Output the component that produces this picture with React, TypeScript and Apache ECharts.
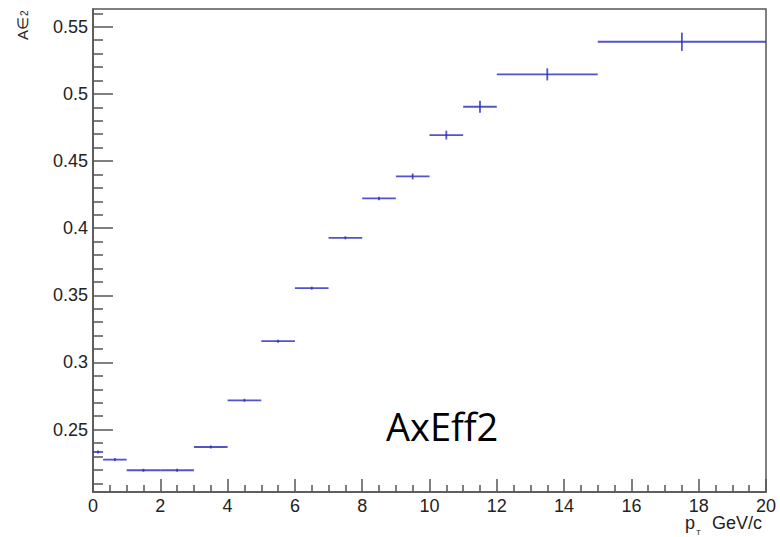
import React, { useEffect, useRef } from "react";
import * as echarts from "echarts";

const binLow = [0, 0.3, 1, 2, 3, 4, 5, 6, 7, 8, 9, 10, 11, 12, 15];
const binHigh = [0.3, 1, 2, 3, 4, 5, 6, 7, 8, 9, 10, 11, 12, 15, 20];
const effValues = [0.2333, 0.2276, 0.2197, 0.2197, 0.237, 0.2718, 0.3158, 0.3553, 0.3928, 0.4221, 0.4385, 0.4693, 0.4904, 0.5145, 0.5388];
const effErrors = [0.0006, 0.0007, 0.0005, 0.0005, 0.0006, 0.0006, 0.0006, 0.0007, 0.0008, 0.0013, 0.0022, 0.0033, 0.0045, 0.0045, 0.0068];

const yMajorTicks = [0.25, 0.3, 0.35, 0.4, 0.45, 0.5, 0.55];
const yMinorTicks = [
  0.21, 0.22, 0.23, 0.24, 0.26, 0.27, 0.28, 0.29, 0.31, 0.32, 0.33, 0.34,
  0.36, 0.37, 0.38, 0.39, 0.41, 0.42, 0.43, 0.44, 0.46, 0.47, 0.48, 0.49,
  0.51, 0.52, 0.53, 0.54, 0.56,
];

const Y_MIN = 0.2035;
const Y_MAX = 0.5632;
const LINE_COLOR = "rgba(45,45,190,0.82)";
const AXIS_COLOR = "#555";
const LABEL_FONT = "Liberation Sans";

export default function App() {
  const ref = useRef<HTMLDivElement>(null);
  useEffect(() => {
    if (!ref.current) return;
    const chart = echarts.init(ref.current, undefined, { renderer: "svg" });
    const data = binLow.map((lo, i) => [lo, binHigh[i], effValues[i], effErrors[i]]);
    chart.setOption({
      animation: false,
      backgroundColor: "#fff",
      grid: {
        left: 93,
        right: 14,
        top: 9,
        bottom: 45,
        show: true,
        borderColor: AXIS_COLOR,
        borderWidth: 1.5,
        backgroundColor: "transparent",
      },
      xAxis: {
        type: "value",
        min: 0,
        max: 20,
        interval: 2,
        axisLine: { show: true, lineStyle: { color: AXIS_COLOR, width: 1.5 } },
        axisTick: { show: true, inside: true, length: 13, lineStyle: { color: AXIS_COLOR, width: 1.5 } },
        minorTick: { show: true, splitNumber: 4, length: 7, lineStyle: { color: AXIS_COLOR, width: 1.5 } },
        splitLine: { show: false },
        axisLabel: { color: "#222", fontFamily: LABEL_FONT, fontSize: 18, lineHeight: 15, margin: 6 },
      },
      yAxis: [
        {
          type: "value",
          min: Y_MIN,
          max: Y_MAX,
          position: "left",
          axisLine: { show: true, lineStyle: { color: AXIS_COLOR, width: 1.5 } },
          axisTick: {
            show: true,
            inside: true,
            length: 20,
            customValues: yMajorTicks,
            lineStyle: { color: AXIS_COLOR, width: 1.5 },
          },
          splitLine: { show: false },
          axisLabel: {
            customValues: yMajorTicks,
            color: "#222",
            fontFamily: LABEL_FONT,
            fontSize: 18,
            margin: 5,
            formatter: (v: number) => String(Math.round(v * 100) / 100),
          },
        },
        {
          type: "value",
          min: Y_MIN,
          max: Y_MAX,
          position: "left",
          offset: 0,
          axisLine: { show: false },
          axisTick: {
            show: true,
            inside: true,
            length: 10,
            customValues: yMinorTicks,
            lineStyle: { color: AXIS_COLOR, width: 1.5 },
          },
          splitLine: { show: false },
          axisLabel: { show: false },
        },
      ],
      series: [
        {
          type: "custom",
          coordinateSystem: "cartesian2d",
          xAxisIndex: 0,
          yAxisIndex: 0,
          encode: { x: [0, 1], y: 2 },
          data,
          renderItem: (params: any, api: any) => {
            const lo = api.value(0);
            const hi = api.value(1);
            const v = api.value(2);
            const e = api.value(3);
            const c = (lo + hi) / 2;
            const p1 = api.coord([lo, v]);
            const p2 = api.coord([hi, v]);
            const top = api.coord([c, v + e]);
            const bot = api.coord([c, v - e]);
            const t = Math.min(top[1], p1[1] - 1.5);
            const b = Math.max(bot[1], p1[1] + 1.5);
            return {
              type: "group",
              children: [
                {
                  type: "line",
                  shape: { x1: p1[0], y1: p1[1], x2: p2[0], y2: p2[1] },
                  style: { stroke: LINE_COLOR, lineWidth: 1.8 },
                },
                {
                  type: "line",
                  shape: { x1: top[0], y1: t, x2: bot[0], y2: b },
                  style: { stroke: LINE_COLOR, lineWidth: 1.8 },
                },
              ],
            };
          },
        },
      ],
      graphic: [
        {
          type: "text",
          x: 386,
          y: 426,
          style: {
            text: "AxEff2",
            font: "38px 'Open Sans'",
            fill: "#000",
            align: "left",
            verticalAlign: "middle",
          },
        },
        {
          type: "text",
          x: 22,
          y: 40,
          rotation: Math.PI / 2,
          style: {
            text: "A\u2208",
            font: "15px 'Liberation Sans'",
            fill: "#222",
            align: "left",
            verticalAlign: "middle",
          },
        },
        {
          type: "text",
          x: 24,
          y: 16,
          rotation: Math.PI / 2,
          style: {
            text: "2",
            font: "10px 'Liberation Sans'",
            fill: "#222",
            align: "left",
            verticalAlign: "middle",
          },
        },
        {
          type: "text",
          x: 685,
          y: 523,
          style: {
            text: "p",
            font: "18px 'Liberation Sans'",
            lineHeight: 14,
            fill: "#222",
            align: "left",
            verticalAlign: "middle",
          },
        },
        {
          type: "text",
          x: 696,
          y: 532,
          style: {
            text: "T",
            font: "8px 'Liberation Sans'",
            lineHeight: 8,
            fill: "#222",
            align: "left",
            verticalAlign: "middle",
          },
        },
        {
          type: "text",
          x: 762,
          y: 523,
          style: {
            text: "GeV/c",
            font: "18px 'Liberation Sans'",
            lineHeight: 14,
            fill: "#222",
            align: "right",
            verticalAlign: "middle",
          },
        },
      ],
    });
    return () => chart.dispose();
  }, []);
  return (
    <div
      ref={ref}
      style={{ position: "fixed", left: 0, top: 0, width: 780, height: 537 }}
    />
  );
}
